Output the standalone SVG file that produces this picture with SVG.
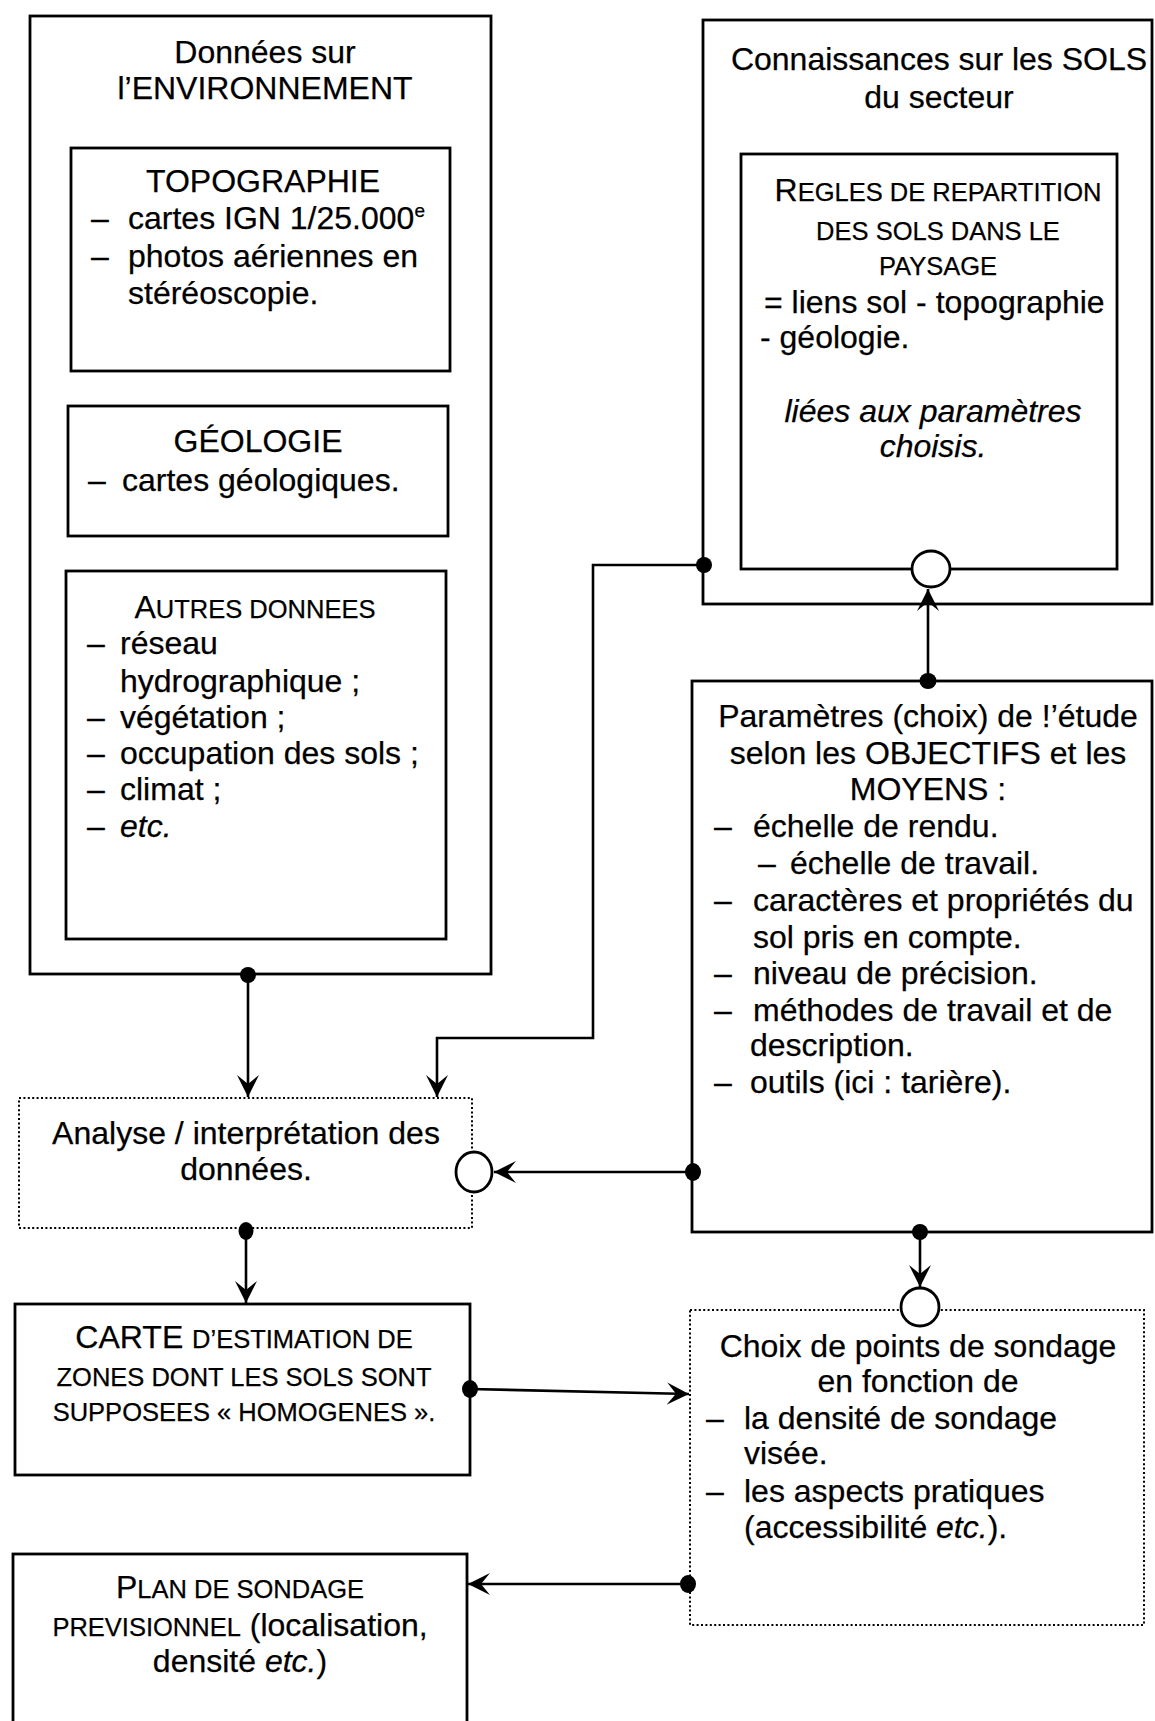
<svg xmlns="http://www.w3.org/2000/svg" width="1155" height="1721" viewBox="0 0 1155 1721">
<style>
text{font-family:"Liberation Sans",Arial,sans-serif;font-size:32px;fill:#000;stroke:#000;stroke-width:0.25}
.c{text-anchor:middle}
.sc{font-size:25.5px}
.i{font-style:italic}
.box{fill:none;stroke:#000;stroke-width:2.8}
.dot{fill:none;stroke:#000;stroke-width:2;stroke-dasharray:2 2.4}
.ln{fill:none;stroke:#000;stroke-width:2.6}
.o{fill:#fff;stroke:#000;stroke-width:2.8}
.f{fill:#000}
</style>
<defs>
<marker id="ar" markerUnits="userSpaceOnUse" markerWidth="24" markerHeight="24" refX="22" refY="11.5" orient="auto">
<path d="M0,0.5 L22,11.5 L0,22.5 L9,11.5 z" fill="#000"/>
</marker>
</defs>

<g id="env">
<rect class="box" x="30" y="16" width="461" height="958"/>
<text class="c" x="265" y="63">Données sur</text>
<text class="c" x="265" y="99">l’ENVIRONNEMENT</text>
</g>
<g id="topo">
<rect class="box" x="71" y="148" width="379" height="223"/>
<text class="c" x="263" y="192">TOPOGRAPHIE</text>
<text x="91" y="229">–</text><text x="128" y="229">cartes IGN 1/25.000<tspan font-size="19" dy="-12">e</tspan></text>
<text x="91" y="267">–</text><text x="128" y="267">photos aériennes en</text>
<text x="128" y="304">stéréoscopie.</text>
</g>
<g id="geol">
<rect class="box" x="68" y="406" width="380" height="130"/>
<text class="c" x="258" y="452">GÉOLOGIE</text>
<text x="88" y="491">–</text><text x="122" y="491">cartes géologiques.</text>
</g>
<g id="autres">
<rect class="box" x="66" y="571" width="380" height="368"/>
<text class="c" x="255" y="618">A<tspan class="sc">UTRES DONNEES</tspan></text>
<text x="87" y="654">–</text><text x="120" y="654">réseau</text>
<text x="120" y="692">hydrographique ;</text>
<text x="87" y="728">–</text><text x="120" y="728">végétation ;</text>
<text x="87" y="764">–</text><text x="120" y="764">occupation des sols ;</text>
<text x="87" y="800">–</text><text x="120" y="800">climat ;</text>
<text x="87" y="837">–</text><text class="i" x="120" y="837">etc.</text>
</g>

<g id="sols">
<rect class="box" x="703" y="20" width="449" height="584"/>
<text class="c" x="939" y="70">Connaissances sur les SOLS</text>
<text class="c" x="939" y="108">du secteur</text>
</g>
<g id="regles">
<rect class="box" x="741" y="154" width="376" height="415"/>
<text class="c" x="938" y="201">R<tspan class="sc">EGLES DE REPARTITION</tspan></text>
<text class="c sc" x="938" y="240">DES SOLS DANS LE</text>
<text class="c sc" x="938" y="275">PAYSAGE</text>
<text x="764" y="313">= liens sol - topographie</text>
<text x="760" y="348">- géologie.</text>
<text class="c i" x="933" y="422">liées aux paramètres</text>
<text class="c i" x="933" y="457">choisis.</text>
</g>

<g id="params">
<rect class="box" x="692" y="681" width="460" height="551"/>
<text class="c" x="928" y="727">Paramètres (choix) de !’étude</text>
<text class="c" x="928" y="764">selon les OBJECTIFS et les</text>
<text class="c" x="928" y="800">MOYENS :</text>
<text x="714" y="837">–</text><text x="753" y="837">échelle de rendu.</text>
<text x="758" y="874">–</text><text x="790" y="874">échelle de travail.</text>
<text x="714" y="911">–</text><text x="753" y="911">caractères et propriétés du</text>
<text x="753" y="948">sol pris en compte.</text>
<text x="714" y="984">–</text><text x="753" y="984">niveau de précision.</text>
<text x="714" y="1021">–</text><text x="753" y="1021">méthodes de travail et de</text>
<text x="750" y="1056">description.</text>
<text x="714" y="1093">–</text><text x="750" y="1093">outils (ici : tarière).</text>
</g>

<g id="analyse">
<rect class="dot" x="19" y="1098" width="453" height="130"/>
<text class="c" x="246" y="1144">Analyse / interprétation des</text>
<text class="c" x="246" y="1180">données.</text>
</g>

<g id="carte">
<rect class="box" x="15" y="1304" width="455" height="171"/>
<text class="c" x="244" y="1348">CARTE <tspan class="sc">D’ESTIMATION DE</tspan></text>
<text class="c sc" x="244" y="1386">ZONES DONT LES SOLS SONT</text>
<text class="c sc" x="244" y="1421">SUPPOSEES « HOMOGENES ».</text>
</g>

<g id="choix">
<rect class="dot" x="690" y="1310" width="454" height="315"/>
<text class="c" x="918" y="1357">Choix de points de sondage</text>
<text class="c" x="918" y="1392">en fonction de</text>
<text x="706" y="1429">–</text><text x="744" y="1429">la densité de sondage</text>
<text x="744" y="1464">visée.</text>
<text x="706" y="1502">–</text><text x="744" y="1502">les aspects pratiques</text>
<text x="744" y="1538">(accessibilité <tspan class="i">etc.</tspan>).</text>
</g>

<g id="plan">
<rect class="box" x="13" y="1554" width="454" height="190"/>
<text class="c" x="240" y="1598">P<tspan class="sc">LAN DE SONDAGE</tspan></text>
<text class="c" x="240" y="1636"><tspan class="sc">PREVISIONNEL</tspan> (localisation,</text>
<text class="c" x="240" y="1672">densité <tspan class="i">etc.</tspan>)</text>
</g>

<g id="connectors">
<path class="ln" d="M248,975 V1097" marker-end="url(#ar)"/>
<path class="ln" d="M704,565 H593 V1038 H437 V1097" marker-end="url(#ar)"/>
<path class="ln" d="M928,681 V589" marker-end="url(#ar)"/>
<path class="ln" d="M693,1172 H494" marker-end="url(#ar)"/>
<path class="ln" d="M246,1230 V1303" marker-end="url(#ar)"/>
<path class="ln" d="M920,1232 V1287" marker-end="url(#ar)"/>
<path class="ln" d="M470,1389 L689,1394" marker-end="url(#ar)"/>
<path class="ln" d="M688,1584 H468" marker-end="url(#ar)"/>
<ellipse class="o" cx="931" cy="569" rx="19" ry="18"/>
<ellipse class="o" cx="474" cy="1172" rx="18" ry="20"/>
<ellipse class="o" cx="920" cy="1307" rx="19" ry="19"/>
<ellipse class="f" cx="248" cy="975" rx="8" ry="8"/>
<ellipse class="f" cx="704" cy="565" rx="8" ry="8"/>
<ellipse class="f" cx="928" cy="681" rx="8.5" ry="8"/>
<ellipse class="f" cx="693" cy="1172" rx="8" ry="9"/>
<ellipse class="f" cx="246" cy="1231" rx="7.5" ry="9"/>
<ellipse class="f" cx="920" cy="1232" rx="8" ry="8"/>
<ellipse class="f" cx="470" cy="1389" rx="8" ry="9"/>
<ellipse class="f" cx="688" cy="1584" rx="8" ry="9"/>
</g>
</svg>
